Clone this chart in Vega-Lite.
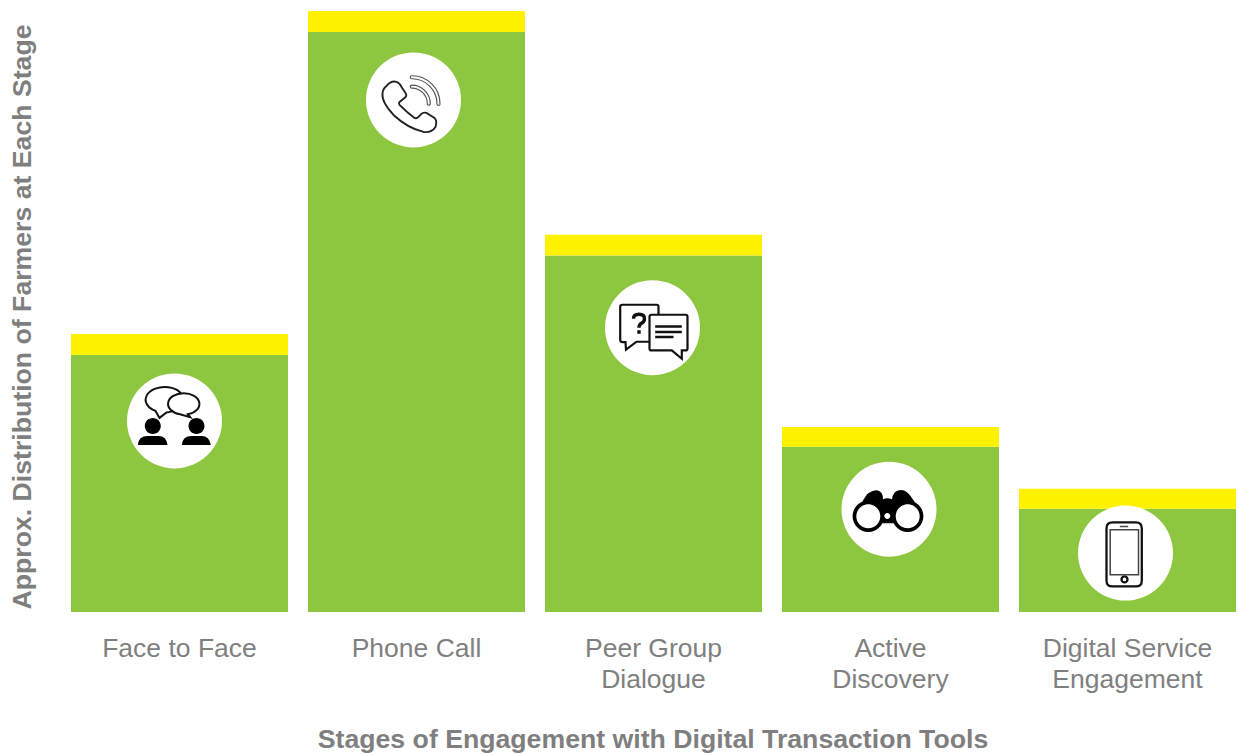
{
"$schema":"https://vega.github.io/schema/vega-lite/v6.json",
"width":1165,"height":601,
"autosize":{"type":"none"},
"padding":{"left":71,"top":11,"right":3,"bottom":142},
"background":"white",
"config":{"view":{"stroke":null},"font":"Liberation Sans"},
"data":{"values":[
{"stage":"Face to Face","green":42.76,"total":46.26,"iconY":31.8},
{"stage":"Phone Call","green":96.5,"total":100,"iconY":85.2},
{"stage":"Peer Group Dialogue","green":59.3,"total":62.75,"iconY":47.3},
{"stage":"Active Discovery","green":27.5,"total":30.8,"iconY":17.1},
{"stage":"Digital Service Engagement","green":17.2,"total":20.5,"iconY":9.8}
]},
"encoding":{
"x":{"field":"stage","type":"nominal","sort":null,
"scale":{"paddingInner":0.0844,"paddingOuter":0},
"axis":{"domain":false,"ticks":false,"labelAngle":0,"labelFontSize":26.5,"labelColor":"#7f7f7f","labelPadding":23,"labelLineHeight":31,"labelOverlap":false,"labelBound":false,"labelFont":"Liberation Sans",
"labelExpr":"datum.label=='Peer Group Dialogue'?['Peer Group','Dialogue']:datum.label=='Active Discovery'?['Active','Discovery']:datum.label=='Digital Service Engagement'?['Digital Service','Engagement']:datum.label",
"title":"Stages of Engagement with Digital Transaction Tools","titleFont":"Liberation Sans","titleFontSize":26.67,"titleFontWeight":"bold","titleColor":"#7f7f7f","titleX":581.5,"titleY":127,"titleBaseline":"middle"}},
"y":{"field":"iconY","type":"quantitative","scale":{"domain":[0,100],"nice":false,"zero":true},
"axis":{"domain":false,"ticks":false,"labels":false,"grid":false,"title":"Approx. Distribution of Farmers at Each Stage","titleFont":"Liberation Sans","titleFontSize":26.67,"titleFontWeight":"bold","titleColor":"#7f7f7f","titleX":-49,"titleY":305.5,"titleBaseline":"middle","titleAlign":"center","titleAngle":-90}}
},
"layer":[
{"mark":{"type":"bar","color":"#8dc63f"},"encoding":{"y":{"field":"green","type":"quantitative","scale":{"domain":[0,100],"nice":false,"zero":true},
"axis":{"domain":false,"ticks":false,"labels":false,"grid":false,"title":"Approx. Distribution of Farmers at Each Stage","titleFont":"Liberation Sans","titleFontSize":26.67,"titleFontWeight":"bold","titleColor":"#7f7f7f","titleX":-49,"titleY":305.5,"titleBaseline":"middle","titleAlign":"center","titleAngle":-90}}}},
{"mark":{"type":"bar","color":"#fff200"},"encoding":{"y":{"field":"green","type":"quantitative","scale":{"domain":[0,100],"nice":false,"zero":true},
"axis":{"domain":false,"ticks":false,"labels":false,"grid":false,"title":"Approx. Distribution of Farmers at Each Stage","titleFont":"Liberation Sans","titleFontSize":26.67,"titleFontWeight":"bold","titleColor":"#7f7f7f","titleX":-49,"titleY":305.5,"titleBaseline":"middle","titleAlign":"center","titleAngle":-90}},"y2":{"field":"total"}}},

{"transform":[{"filter":"datum.stage=='Face to Face'"}],"mark":{"type":"point","shape":"circle","filled":true,"fill":"white","opacity":1,"size":9025,"xOffset":-5}},
{"transform":[{"filter":"datum.stage=='Phone Call'"}],"mark":{"type":"point","shape":"circle","filled":true,"fill":"white","opacity":1,"size":9025,"xOffset":-3}},
{"transform":[{"filter":"datum.stage=='Peer Group Dialogue'"}],"mark":{"type":"point","shape":"circle","filled":true,"fill":"white","opacity":1,"size":9025,"xOffset":-1}},
{"transform":[{"filter":"datum.stage=='Active Discovery'"}],"mark":{"type":"point","shape":"circle","filled":true,"fill":"white","opacity":1,"size":9025,"xOffset":-1.5}},
{"transform":[{"filter":"datum.stage=='Digital Service Engagement'"}],"mark":{"type":"point","shape":"circle","filled":true,"fill":"white","opacity":1,"size":9025,"xOffset":-2}},

{"transform":[{"filter":"datum.stage=='Face to Face'"}],"mark":{"type":"point","size":4,"opacity":1,"xOffset":-5,"fill":"white","stroke":"#111","strokeWidth":2,"shape":"M-19,-10 L-15,-3 L-8,-8.5 A19,12.7 0 1 0 -19,-10 Z"}},
{"transform":[{"filter":"datum.stage=='Face to Face'"}],"mark":{"type":"point","size":4,"opacity":1,"xOffset":-5,"fill":"white","stroke":"#111","strokeWidth":2,"shape":"M5.5,-6.6 L15.7,-3.7 L13.3,-6.65 A15.7,10.7 0 1 0 5.5,-6.6 Z"}},
{"transform":[{"filter":"datum.stage=='Face to Face'"}],"mark":{"type":"point","size":4,"opacity":1,"xOffset":-5,"filled":true,"fill":"black","stroke":null,"shape":"M-29.7,5 A8,8 0 1 0 -13.7,5 A8,8 0 1 0 -29.7,5 Z M-36.7,24 Q-36,15 -27,15 H-16 Q-8,15 -7,24 Z M14,5 A8,8 0 1 0 30,5 A8,8 0 1 0 14,5 Z M7.3,24 Q8,15 17,15 H27 Q35,15 36.3,24 Z"}},

{"transform":[{"filter":"datum.stage=='Phone Call'"}],"mark":{"type":"point","size":4,"opacity":1,"xOffset":-3,"fill":null,"stroke":"#222","strokeWidth":1.9,"shape":"M-27,-14 Q-22,-20 -17,-18 Q-14,-17 -12,-13 L-8,-7 Q-6,-4 -9,-2 L-14,2 Q-15,3 -14,5 Q-6,13 1,18 Q3,19 5,17 L8,14 Q10,12 13,13 L21,18 Q24,21 22,27 Q18,33 10,32 Q-6,28 -20,15 Q-32,2 -31,-6 Q-31,-11 -27,-14 Z"}},
{"transform":[{"filter":"datum.stage=='Phone Call'"}],"mark":{"type":"point","size":4,"opacity":1,"xOffset":-3,"fill":null,"stroke":"#555","strokeWidth":1.2,"shape":"M-1.7,-24.2 A28,28 0 0 1 26.5,4 A1.5,1.5 0 0 1 23.5,4 A25,25 0 0 0 -1.7,-21.2 A1.5,1.5 0 0 1 -1.7,-24.2 Z M-1.7,-14.8 A18.5,18.5 0 0 1 16.8,3.7 A1.5,1.5 0 0 1 13.8,3.7 A15.5,15.5 0 0 0 -1.7,-11.8 A1.5,1.5 0 0 1 -1.7,-14.8 Z"}},

{"transform":[{"filter":"datum.stage=='Peer Group Dialogue'"}],"mark":{"type":"point","size":4,"opacity":1,"xOffset":-1,"fill":"white","stroke":"#111","strokeWidth":2.2,"shape":"M-30,-23 H4 Q6,-23 6,-21 V14 H-16 L-26.5,22 L-27,14.3 H-30 Q-32.3,14.3 -32.3,12 V-21 Q-32.3,-23 -30,-23 Z"}},
{"transform":[{"filter":"datum.stage=='Peer Group Dialogue'"}],"mark":{"type":"point","size":4,"opacity":1,"xOffset":-1,"fill":"white","stroke":"#111","strokeWidth":2.2,"shape":"M-1,-13 H33 Q35,-13 35,-11 V20.7 Q35,22.7 33,22.7 H29.3 V31 L19.3,22.7 H-1 Q-3,22.7 -3,20.7 V-11 Q-3,-13 -1,-13 Z"}},
{"transform":[{"filter":"datum.stage=='Peer Group Dialogue'"}],"mark":{"type":"point","size":4,"opacity":1,"xOffset":-1,"fill":null,"stroke":"#111","strokeWidth":2.6,"shape":"M2.7,-1.3 H29.3 M2.7,4.3 H29.3 M2.7,9.3 H21"}},
{"transform":[{"filter":"datum.stage=='Peer Group Dialogue'"}],"mark":{"type":"point","size":4,"opacity":1,"xOffset":-1,"fill":null,"stroke":"#111","strokeWidth":3.4,"shape":"M-19,-9 Q-19,-13.5 -13.5,-13.5 Q-8,-13.5 -8,-9 Q-8,-6 -11,-4.5 Q-13.5,-3 -13.5,0 M-13.5,2.5 L-13.5,6"}},

{"transform":[{"filter":"datum.stage=='Active Discovery'"}],"mark":{"type":"point","size":4,"opacity":1,"xOffset":-1.5,"filled":true,"fill":"black","stroke":null,"shape":"M-36.4,7 A15.7,15.7 0 1 1 -5,7 A15.7,15.7 0 1 1 -36.4,7 Z M3,7 A15.7,15.7 0 1 1 34.4,7 A15.7,15.7 0 1 1 3,7 Z M-33,2 L-22,-15 Q-17,-19 -12,-19 Q-6,-18 -6,-10 Q-2,-12 3,-10 Q4,-18 10,-19 Q16,-20 21,-14 L32,2 L12,14 L-12,14 Z"}},
{"transform":[{"filter":"datum.stage=='Active Discovery'"}],"mark":{"type":"point","size":4,"opacity":1,"xOffset":-1.5,"filled":true,"fill":"white","stroke":null,"shape":"M-32.7,7 A12,12 0 1 1 -8.7,7 A12,12 0 1 1 -32.7,7 Z M6.7,7 A12,12 0 1 1 30.7,7 A12,12 0 1 1 6.7,7 Z M-4.7,6.7 A3,3 0 1 1 1.3,6.7 A3,3 0 1 1 -4.7,6.7 Z"}},

{"transform":[{"filter":"datum.stage=='Digital Service Engagement'"}],"mark":{"type":"point","size":4,"opacity":1,"xOffset":-2,"fill":null,"stroke":"#111","strokeWidth":2.3,"shape":"M-13,-30.7 H10.3 Q16.3,-30.7 16.3,-24.7 V27.3 Q16.3,33.3 10.3,33.3 H-13 Q-19,33.3 -19,27.3 V-24.7 Q-19,-30.7 -13,-30.7 Z M-4,26.3 A3,3 0 1 0 2,26.3 A3,3 0 1 0 -4,26.3 Z"}},
{"transform":[{"filter":"datum.stage=='Digital Service Engagement'"}],"mark":{"type":"point","size":4,"opacity":1,"xOffset":-2,"fill":null,"stroke":"#444","strokeWidth":1.5,"shape":"M-15.3,-23.3 H13 V21.7 H-15.3 Z M-5.7,-26.7 H2.7"}}
]
}
